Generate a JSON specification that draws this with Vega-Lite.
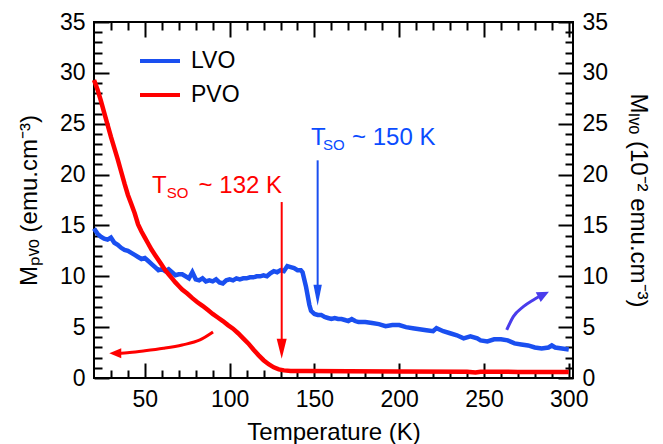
{
  "$schema": "https://vega.github.io/schema/vega-lite/v6.json",
  "width": 479,
  "height": 356,
  "autosize": {"type": "none"},
  "padding": {"left": 94, "top": 22, "right": 90, "bottom": 66},
  "config": {
    "font": "Liberation Sans",
    "view": {"stroke": "black", "strokeWidth": 2},
    "axis": {
      "grid": false, "domain": false, "tickColor": "black", "tickWidth": 2,
      "labelColor": "black", "titleColor": "black", "labelFontSize": 23,
      "titleFontSize": 24, "titleFontWeight": "normal",
      "labelFont": "Liberation Sans", "titleFont": "Liberation Sans"
    },
    "legend": {
      "orient": "none", "legendX": 44, "legendY": 17, "title": null,
      "symbolType": "M-1,0L1,0", "symbolSize": 1600, "symbolStrokeWidth": 4,
      "labelFontSize": 23, "labelOffset": 9, "labelColor": "black", "rowPadding": -11
    }
  },
  "datasets": {
    "curves": [
      {"T": 20, "M": 14.7, "series": "LVO"}, {"T": 22, "M": 14.2, "series": "LVO"}, {"T": 24, "M": 13.9, "series": "LVO"},
      {"T": 26, "M": 13.7, "series": "LVO"}, {"T": 28, "M": 13.6, "series": "LVO"}, {"T": 30, "M": 13.8, "series": "LVO"},
      {"T": 32, "M": 13.3, "series": "LVO"}, {"T": 34, "M": 13.1, "series": "LVO"}, {"T": 36, "M": 12.8, "series": "LVO"},
      {"T": 38, "M": 12.6, "series": "LVO"}, {"T": 40, "M": 12.5, "series": "LVO"}, {"T": 42, "M": 12.3, "series": "LVO"},
      {"T": 44, "M": 12.1, "series": "LVO"}, {"T": 46, "M": 11.9, "series": "LVO"}, {"T": 48, "M": 11.7, "series": "LVO"},
      {"T": 50, "M": 11.8, "series": "LVO"}, {"T": 52, "M": 11.5, "series": "LVO"}, {"T": 54, "M": 11.2, "series": "LVO"},
      {"T": 56, "M": 10.9, "series": "LVO"}, {"T": 58, "M": 10.6, "series": "LVO"}, {"T": 60, "M": 10.7, "series": "LVO"},
      {"T": 62, "M": 10.5, "series": "LVO"}, {"T": 64, "M": 10.7, "series": "LVO"}, {"T": 66, "M": 10.4, "series": "LVO"},
      {"T": 68, "M": 10.1, "series": "LVO"}, {"T": 70, "M": 10.2, "series": "LVO"}, {"T": 72, "M": 10.2, "series": "LVO"},
      {"T": 74, "M": 10.0, "series": "LVO"}, {"T": 76, "M": 9.8, "series": "LVO"}, {"T": 78, "M": 10.4, "series": "LVO"},
      {"T": 80, "M": 9.7, "series": "LVO"}, {"T": 82, "M": 9.6, "series": "LVO"}, {"T": 84, "M": 9.8, "series": "LVO"},
      {"T": 86, "M": 9.5, "series": "LVO"}, {"T": 88, "M": 9.6, "series": "LVO"}, {"T": 90, "M": 9.5, "series": "LVO"},
      {"T": 92, "M": 9.7, "series": "LVO"}, {"T": 94, "M": 9.4, "series": "LVO"}, {"T": 96, "M": 9.3, "series": "LVO"},
      {"T": 98, "M": 9.6, "series": "LVO"}, {"T": 100, "M": 9.7, "series": "LVO"}, {"T": 102, "M": 9.6, "series": "LVO"},
      {"T": 104, "M": 9.8, "series": "LVO"}, {"T": 106, "M": 9.7, "series": "LVO"}, {"T": 108, "M": 9.8, "series": "LVO"},
      {"T": 110, "M": 9.8, "series": "LVO"}, {"T": 112, "M": 9.9, "series": "LVO"}, {"T": 114, "M": 9.9, "series": "LVO"},
      {"T": 116, "M": 10.0, "series": "LVO"}, {"T": 118, "M": 10.0, "series": "LVO"}, {"T": 120, "M": 10.1, "series": "LVO"},
      {"T": 122, "M": 10.0, "series": "LVO"}, {"T": 124, "M": 10.3, "series": "LVO"}, {"T": 126, "M": 10.5, "series": "LVO"},
      {"T": 128, "M": 10.4, "series": "LVO"}, {"T": 130, "M": 10.6, "series": "LVO"}, {"T": 132, "M": 10.5, "series": "LVO"},
      {"T": 134, "M": 11.0, "series": "LVO"}, {"T": 136, "M": 10.9, "series": "LVO"}, {"T": 138, "M": 10.8, "series": "LVO"},
      {"T": 140, "M": 10.6, "series": "LVO"}, {"T": 142, "M": 10.6, "series": "LVO"}, {"T": 143, "M": 10.4, "series": "LVO"},
      {"T": 145, "M": 9.0, "series": "LVO"}, {"T": 147, "M": 7.2, "series": "LVO"}, {"T": 148, "M": 6.6, "series": "LVO"},
      {"T": 150, "M": 6.3, "series": "LVO"}, {"T": 152, "M": 6.2, "series": "LVO"}, {"T": 154, "M": 6.2, "series": "LVO"},
      {"T": 156, "M": 6.0, "series": "LVO"}, {"T": 158, "M": 5.9, "series": "LVO"}, {"T": 160, "M": 5.8, "series": "LVO"},
      {"T": 162, "M": 5.9, "series": "LVO"}, {"T": 164, "M": 5.8, "series": "LVO"}, {"T": 166, "M": 5.8, "series": "LVO"},
      {"T": 168, "M": 5.7, "series": "LVO"}, {"T": 170, "M": 5.6, "series": "LVO"}, {"T": 172, "M": 5.8, "series": "LVO"},
      {"T": 174, "M": 5.6, "series": "LVO"}, {"T": 176, "M": 5.5, "series": "LVO"}, {"T": 180, "M": 5.5, "series": "LVO"},
      {"T": 184, "M": 5.4, "series": "LVO"}, {"T": 188, "M": 5.3, "series": "LVO"}, {"T": 192, "M": 5.1, "series": "LVO"},
      {"T": 196, "M": 5.2, "series": "LVO"}, {"T": 200, "M": 5.2, "series": "LVO"}, {"T": 204, "M": 5.0, "series": "LVO"},
      {"T": 208, "M": 4.9, "series": "LVO"}, {"T": 212, "M": 4.8, "series": "LVO"}, {"T": 216, "M": 4.7, "series": "LVO"},
      {"T": 220, "M": 4.6, "series": "LVO"}, {"T": 222, "M": 4.9, "series": "LVO"}, {"T": 226, "M": 4.6, "series": "LVO"},
      {"T": 230, "M": 4.4, "series": "LVO"}, {"T": 234, "M": 4.2, "series": "LVO"}, {"T": 238, "M": 3.9, "series": "LVO"},
      {"T": 242, "M": 4.1, "series": "LVO"}, {"T": 246, "M": 3.9, "series": "LVO"}, {"T": 248, "M": 3.7, "series": "LVO"},
      {"T": 252, "M": 3.6, "series": "LVO"}, {"T": 256, "M": 3.8, "series": "LVO"}, {"T": 260, "M": 3.8, "series": "LVO"},
      {"T": 264, "M": 3.7, "series": "LVO"}, {"T": 268, "M": 3.4, "series": "LVO"}, {"T": 272, "M": 3.3, "series": "LVO"},
      {"T": 276, "M": 3.2, "series": "LVO"}, {"T": 280, "M": 3.0, "series": "LVO"}, {"T": 284, "M": 2.9, "series": "LVO"},
      {"T": 288, "M": 3.0, "series": "LVO"}, {"T": 290, "M": 3.2, "series": "LVO"}, {"T": 292, "M": 3.0, "series": "LVO"},
      {"T": 296, "M": 2.9, "series": "LVO"}, {"T": 300, "M": 2.8, "series": "LVO"},
      {"T": 20, "M": 29.3, "series": "PVO"}, {"T": 22, "M": 28.4, "series": "PVO"}, {"T": 24, "M": 27.3, "series": "PVO"},
      {"T": 26, "M": 26.1, "series": "PVO"}, {"T": 28, "M": 24.9, "series": "PVO"}, {"T": 30, "M": 23.7, "series": "PVO"},
      {"T": 32, "M": 22.6, "series": "PVO"}, {"T": 34, "M": 21.5, "series": "PVO"}, {"T": 36, "M": 20.3, "series": "PVO"},
      {"T": 38, "M": 19.1, "series": "PVO"}, {"T": 40, "M": 18.0, "series": "PVO"}, {"T": 42, "M": 17.1, "series": "PVO"},
      {"T": 44, "M": 16.2, "series": "PVO"}, {"T": 46, "M": 15.1, "series": "PVO"}, {"T": 48, "M": 14.4, "series": "PVO"},
      {"T": 50, "M": 13.8, "series": "PVO"}, {"T": 52, "M": 13.2, "series": "PVO"}, {"T": 54, "M": 12.6, "series": "PVO"},
      {"T": 56, "M": 12.1, "series": "PVO"}, {"T": 58, "M": 11.6, "series": "PVO"}, {"T": 60, "M": 11.1, "series": "PVO"},
      {"T": 62, "M": 10.6, "series": "PVO"}, {"T": 64, "M": 10.2, "series": "PVO"}, {"T": 66, "M": 9.8, "series": "PVO"},
      {"T": 68, "M": 9.4, "series": "PVO"}, {"T": 70, "M": 9.05, "series": "PVO"}, {"T": 72, "M": 8.7, "series": "PVO"},
      {"T": 75, "M": 8.3, "series": "PVO"}, {"T": 78, "M": 7.85, "series": "PVO"}, {"T": 81, "M": 7.45, "series": "PVO"},
      {"T": 84, "M": 7.1, "series": "PVO"}, {"T": 87, "M": 6.7, "series": "PVO"}, {"T": 90, "M": 6.3, "series": "PVO"},
      {"T": 93, "M": 5.95, "series": "PVO"}, {"T": 96, "M": 5.6, "series": "PVO"}, {"T": 99, "M": 5.2, "series": "PVO"},
      {"T": 102, "M": 4.85, "series": "PVO"}, {"T": 105, "M": 4.4, "series": "PVO"}, {"T": 108, "M": 3.9, "series": "PVO"},
      {"T": 111, "M": 3.4, "series": "PVO"}, {"T": 114, "M": 2.8, "series": "PVO"}, {"T": 117, "M": 2.25, "series": "PVO"},
      {"T": 120, "M": 1.75, "series": "PVO"}, {"T": 123, "M": 1.35, "series": "PVO"}, {"T": 126, "M": 1.05, "series": "PVO"},
      {"T": 129, "M": 0.85, "series": "PVO"}, {"T": 132, "M": 0.75, "series": "PVO"}, {"T": 136, "M": 0.7, "series": "PVO"},
      {"T": 145, "M": 0.68, "series": "PVO"}, {"T": 170, "M": 0.66, "series": "PVO"}, {"T": 200, "M": 0.64, "series": "PVO"},
      {"T": 240, "M": 0.62, "series": "PVO"}, {"T": 245, "M": 0.55, "series": "PVO"}, {"T": 248, "M": 0.62, "series": "PVO"},
      {"T": 270, "M": 0.6, "series": "PVO"}, {"T": 300, "M": 0.58, "series": "PVO"}
    ],
    "redArrow": [{"T": 130.7, "top": 17.3, "base": 3.0, "tip": 1.9}],
    "blueArrow": [{"T": 151.9, "top": 21.4, "base": 8.2, "tip": 7.1}],
    "redCurve": [
      {"T": 90.2, "M": 4.52}, {"T": 82.5, "M": 3.74}, {"T": 72, "M": 3.25}, {"T": 61, "M": 2.92},
      {"T": 50, "M": 2.67}, {"T": 41, "M": 2.5}, {"T": 34, "M": 2.42}
    ],
    "redCurveTip": [{"T": 29.0, "M": 2.43}],
    "blueCurve": [
      {"T": 263.4, "M": 4.72}, {"T": 267.3, "M": 6.03}, {"T": 273.2, "M": 7.01}, {"T": 279.1, "M": 7.67}, {"T": 283, "M": 8.06}
    ],
    "blueCurveTip": [{"T": 288.3, "M": 8.49}],
    "redBig": [{"T": 54.2, "M": 18.15, "label": "T"}, {"T": 81.7, "M": 18.15, "label": "~ 132 K"}],
    "redSmall": [{"T": 62.9, "M": 17.67, "label": "SO"}],
    "blueBig": [{"T": 148.0, "M": 22.9, "label": "T"}, {"T": 172.2, "M": 22.9, "label": "~ 150 K"}],
    "blueSmall": [{"T": 155.1, "M": 22.4, "label": "SO"}]
  },
  "layer": [
    {
      "data": {"name": "curves"},
      "mark": {"type": "line", "strokeWidth": 4.5},
      "encoding": {
        "x": {"field": "T", "type": "quantitative", "scale": {"domain": [20, 302.5], "nice": false, "zero": false},
              "axis": {"orient": "bottom", "values": [50, 100, 150, 200, 250, 300], "tickSize": -15, "labelPadding": 25, "title": "Temperature (K)", "titlePadding": 9}},
        "y": {"field": "M", "type": "quantitative", "scale": {"domain": [0, 35], "nice": false, "zero": true},
              "axis": {"orient": "left", "values": [0, 5, 10, 15, 20, 25, 30, 35], "tickSize": -15, "labelPadding": 24, "title": "Mₚᵥₒ (emu.cm⁻³)", "titlePadding": 18}},
        "color": {"field": "series", "type": "nominal", "scale": {"domain": ["LVO", "PVO"], "range": ["#1a4ff0", "#ff0000"]}}
      }
    },
    {
      "data": {"name": "redArrow"},
      "mark": {"type": "rule", "color": "#ff0000", "strokeWidth": 2},
      "encoding": {
        "x": {"field": "T", "type": "quantitative", "scale": {"domain": [20, 302.5], "nice": false, "zero": false},
              "axis": {"orient": "bottom", "values": [30, 40, 60, 70, 80, 90, 110, 120, 130, 140, 160, 170, 180, 190, 210, 220, 230, 240, 260, 270, 280, 290], "tickSize": -8, "labels": false, "title": null}},
        "y": {"field": "top", "type": "quantitative", "scale": {"domain": [0, 35], "nice": false},
              "axis": {"orient": "left", "values": [1, 2, 3, 4, 6, 7, 8, 9, 11, 12, 13, 14, 16, 17, 18, 19, 21, 22, 23, 24, 26, 27, 28, 29, 31, 32, 33, 34], "tickSize": -8, "labels": false, "title": null}},
        "y2": {"field": "base"}
      }
    },
    {
      "data": {"name": "blueArrow"},
      "mark": {"type": "rule", "color": "#1a4ff0", "strokeWidth": 2},
      "encoding": {
        "x": {"field": "T", "type": "quantitative", "scale": {"domain": [20, 302.5], "nice": false, "zero": false},
              "axis": {"orient": "top", "values": [50, 100, 150, 200, 250, 300], "tickSize": -15, "labels": false, "title": null}},
        "y": {"field": "top", "type": "quantitative", "scale": {"domain": [0, 35], "nice": false},
              "axis": {"orient": "right", "values": [0, 5, 10, 15, 20, 25, 30, 35], "tickSize": -15, "labelPadding": 24, "title": "Mₗᵥₒ (10⁻² emu.cm⁻³)", "titlePadding": 18}},
        "y2": {"field": "base"}
      }
    },
    {
      "data": {"name": "redArrow"},
      "mark": {"type": "point", "filled": true, "opacity": 1, "color": "#ff0000", "strokeWidth": 0, "shape": "M-0.25,-1L0.25,-1L0,0Z", "size": 1600},
      "encoding": {
        "x": {"field": "T", "type": "quantitative", "scale": {"domain": [20, 302.5], "nice": false, "zero": false},
              "axis": {"orient": "top", "values": [30, 40, 60, 70, 80, 90, 110, 120, 130, 140, 160, 170, 180, 190, 210, 220, 230, 240, 260, 270, 280, 290], "tickSize": -8, "labels": false, "title": null}},
        "y": {"field": "tip", "type": "quantitative", "scale": {"domain": [0, 35], "nice": false},
              "axis": {"orient": "right", "values": [1, 2, 3, 4, 6, 7, 8, 9, 11, 12, 13, 14, 16, 17, 18, 19, 21, 22, 23, 24, 26, 27, 28, 29, 31, 32, 33, 34], "tickSize": -8, "labels": false, "title": null}}
      }
    },
    {
      "data": {"name": "blueArrow"},
      "mark": {"type": "point", "filled": true, "opacity": 1, "color": "#1a4ff0", "strokeWidth": 0, "shape": "M-0.2,-1L0.2,-1L0,0Z", "size": 1764},
      "encoding": {
        "x": {"field": "T", "type": "quantitative", "axis": null},
        "y": {"field": "tip", "type": "quantitative", "axis": null}
      }
    },
    {
      "data": {"name": "redCurve"},
      "mark": {"type": "line", "color": "#ff0000", "strokeWidth": 3, "interpolate": "monotone"},
      "encoding": {
        "x": {"field": "T", "type": "quantitative", "axis": null},
        "y": {"field": "M", "type": "quantitative", "axis": null}
      }
    },
    {
      "data": {"name": "redCurveTip"},
      "mark": {"type": "point", "filled": true, "opacity": 1, "color": "#ff0000", "strokeWidth": 0, "shape": "M0,0L1,-0.42L1,0.42Z", "size": 576},
      "encoding": {
        "x": {"field": "T", "type": "quantitative", "axis": null},
        "y": {"field": "M", "type": "quantitative", "axis": null}
      }
    },
    {
      "data": {"name": "blueCurve"},
      "mark": {"type": "line", "color": "#4a3cec", "strokeWidth": 3, "interpolate": "monotone"},
      "encoding": {
        "x": {"field": "T", "type": "quantitative", "axis": null},
        "y": {"field": "M", "type": "quantitative", "axis": null}
      }
    },
    {
      "data": {"name": "blueCurveTip"},
      "mark": {"type": "point", "filled": true, "opacity": 1, "color": "#4a3cec", "strokeWidth": 0, "shape": "M0,0L1,-0.45L1,0.45Z", "size": 576, "angle": 153},
      "encoding": {
        "x": {"field": "T", "type": "quantitative", "axis": null},
        "y": {"field": "M", "type": "quantitative", "axis": null}
      }
    },
    {
      "data": {"name": "redBig"},
      "mark": {"type": "text", "color": "#ff0000", "fontSize": 24, "align": "left", "baseline": "alphabetic"},
      "encoding": {
        "x": {"field": "T", "type": "quantitative", "axis": null},
        "y": {"field": "M", "type": "quantitative", "axis": null},
        "text": {"field": "label"}
      }
    },
    {
      "data": {"name": "redSmall"},
      "mark": {"type": "text", "color": "#ff0000", "fontSize": 15, "align": "left", "baseline": "alphabetic"},
      "encoding": {
        "x": {"field": "T", "type": "quantitative", "axis": null},
        "y": {"field": "M", "type": "quantitative", "axis": null},
        "text": {"field": "label"}
      }
    },
    {
      "data": {"name": "blueBig"},
      "mark": {"type": "text", "color": "#0a4cff", "fontSize": 24, "align": "left", "baseline": "alphabetic"},
      "encoding": {
        "x": {"field": "T", "type": "quantitative", "axis": null},
        "y": {"field": "M", "type": "quantitative", "axis": null},
        "text": {"field": "label"}
      }
    },
    {
      "data": {"name": "blueSmall"},
      "mark": {"type": "text", "color": "#0a4cff", "fontSize": 15, "align": "left", "baseline": "alphabetic"},
      "encoding": {
        "x": {"field": "T", "type": "quantitative", "axis": null},
        "y": {"field": "M", "type": "quantitative", "axis": null},
        "text": {"field": "label"}
      }
    }
  ],
  "resolve": {"axis": {"x": "independent", "y": "independent"}}
}
